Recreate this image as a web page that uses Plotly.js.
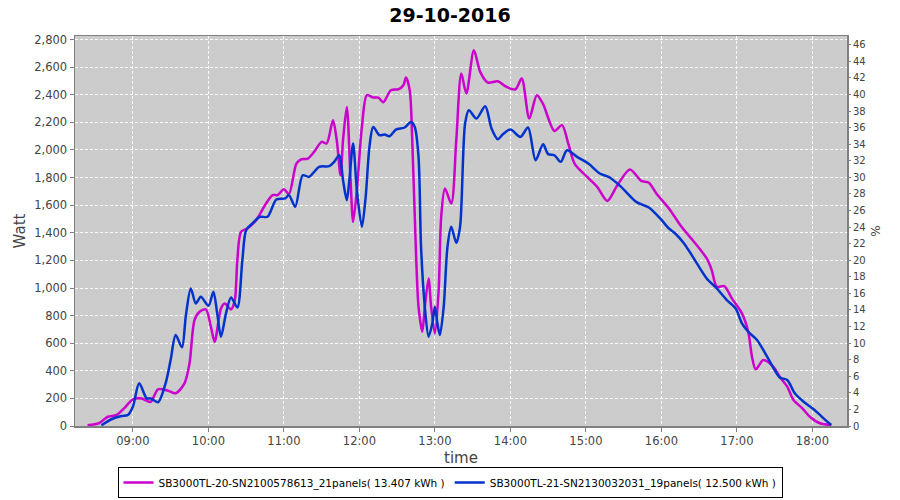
<!DOCTYPE html>
<html>
<head>
<meta charset="utf-8">
<script src="https://cdn.plot.ly/plotly-3.0.1.min.js"></script>
<style>html,body{margin:0;padding:0;background:#fff;}#chart{width:900px;height:500px;}</style>
</head>
<body>
<div id="chart"></div>
<script>
var DAY = "2016-10-29 ";
var chartTitle = "29-10-2016";
var seriesNames = [
  "SB3000TL-20-SN2100578613_21panels( 13.407 kWh )",
  "SB3000TL-21-SN2130032031_19panels( 12.500 kWh )"
];

var timesA = ["08:24","08:33","08:40","08:47","08:53","09:00","09:07","09:14","09:20","09:28","09:34","09:41","09:45","09:49","09:53","09:58","10:02","10:05","10:10","10:13","10:18","10:21","10:23","10:26","10:31","10:38","10:45","10:51","10:55","11:00","11:04","11:10","11:14","11:19","11:24","11:30","11:34","11:39","11:42","11:45","11:47","11:50","11:53","11:55","11:58","12:02","12:06","12:11","12:15","12:19","12:25","12:31","12:35","12:37","12:40","12:42","12:45","12:47","12:50","12:52","12:55","12:57","13:00","13:03","13:05","13:08","13:13","13:17","13:21","13:25","13:31","13:36","13:42","13:50","13:57","14:04","14:09","14:15","14:21","14:26","14:35","14:41","14:46","14:51","15:01","15:09","15:17","15:25","15:35","15:44","15:50","15:56","16:07","16:16","16:27","16:36","16:40","16:44","16:50","16:56","17:04","17:09","17:12","17:15","17:21","17:29","17:34","17:40","17:45","17:52","17:58","18:06","18:15"];
var wattA = [5,20,67,80,128,193,200,174,266,256,237,309,454,768,828,845,719,610,852,888,845,912,1202,1407,1431,1492,1600,1673,1673,1716,1680,1902,1933,1938,1986,2059,2047,2216,2071,1817,2071,2312,1781,1479,1709,2167,2397,2380,2380,2346,2433,2440,2469,2525,2433,2071,1250,864,683,864,1069,864,671,985,1516,1721,1612,2071,2554,2409,2723,2566,2489,2498,2457,2440,2518,2228,2397,2332,2138,2180,2047,1902,1805,1733,1631,1745,1859,1776,1762,1685,1564,1443,1323,1214,1130,1009,1014,925,816,683,502,411,478,429,357,285,188,128,67,20,7];

var timesB = ["08:35","08:43","08:51","08:56","09:00","09:05","09:11","09:14","09:20","09:26","09:30","09:34","09:39","09:42","09:46","09:50","09:54","10:00","10:04","10:07","10:10","10:14","10:18","10:23","10:27","10:30","10:35","10:41","10:47","10:54","11:01","11:04","11:09","11:15","11:20","11:28","11:36","11:40","11:44","11:47","11:50","11:52","11:55","11:58","12:02","12:05","12:08","12:11","12:16","12:20","12:24","12:29","12:36","12:41","12:44","12:47","12:49","12:52","12:55","12:58","13:00","13:02","13:04","13:07","13:10","13:13","13:17","13:20","13:24","13:27","13:33","13:40","13:45","13:50","13:54","14:00","14:08","14:14","14:20","14:26","14:30","14:35","14:40","14:45","14:53","15:02","15:11","15:19","15:28","15:40","15:50","15:59","16:06","16:11","16:18","16:25","16:36","16:44","16:52","16:59","17:04","17:09","17:16","17:24","17:30","17:34","17:40","17:46","17:53","18:01","18:08","18:15"];
var wattB = [5,49,72,80,140,309,200,200,172,309,478,659,570,792,997,888,936,871,973,816,647,816,932,859,1202,1419,1468,1516,1516,1641,1649,1673,1588,1817,1805,1878,1883,1914,1962,1781,1636,1781,2047,1709,1443,1661,2023,2167,2107,2112,2100,2148,2163,2203,2167,1950,1298,864,647,744,864,744,659,864,1298,1443,1327,1443,2192,2288,2228,2317,2156,2078,2114,2148,2095,2163,1926,2042,1970,1962,1914,1998,1950,1902,1830,1801,1733,1624,1583,1504,1431,1395,1323,1226,1069,997,912,852,744,683,623,502,405,352,333,237,176,121,63,7];

function full(ts){ return ts.map(function(t){ return DAY + t; }); }

var FONT = "DejaVu Sans, Verdana, sans-serif";
var data = [
  {x: full(timesA), y: wattA, name: seriesNames[0], type: "scatter", mode: "lines",
   line: {color: "#cc00cc", width: 2.5, shape: "spline", smoothing: 0.8}},
  {x: full(timesB), y: wattB, name: seriesNames[1], type: "scatter", mode: "lines",
   line: {color: "#0033cc", width: 2.5, shape: "spline", smoothing: 0.8}},
  {x: [], y: [], yaxis: "y2", type: "scatter", mode: "lines", showlegend: false, hoverinfo: "skip"}
];

var layout = {
  width: 900, height: 500,
  paper_bgcolor: "#ffffff", plot_bgcolor: "#cccccc",
  margin: {l: 75, r: 53, t: 36, b: 74, autoexpand: false},
  font: {family: FONT, size: 11, color: "#444"},
  title: {text: "<b>" + chartTitle + "</b>", x: 0.5, xanchor: "center", y: 0.97, yanchor: "middle",
          font: {family: FONT, size: 19, color: "#000"}},
  showlegend: true,
  legend: {orientation: "h", x: 0.5, xanchor: "center", xref: "container",
           y: 0.004, yanchor: "bottom", yref: "container",
           bordercolor: "#000", borderwidth: 1, bgcolor: "#fff",
           font: {family: FONT, size: 10.5, color: "#000"}, itemwidth: 30, tracegroupgap: 0},
  xaxis: {type: "date", range: [DAY + "08:14:00", DAY + "18:27:30"],
          tick0: DAY + "09:00", dtick: 3600000, tickformat: "%H:%M",
          showgrid: true, gridcolor: "#ffffff", griddash: "3px,2px", gridwidth: 1,
          showline: true, linecolor: "#808080", linewidth: 1.5, mirror: true,
          ticks: "outside", ticklen: 4, tickcolor: "#808080",
          tickfont: {family: FONT, size: 11.5, color: "#444"},
          title: {text: "time", font: {family: FONT, size: 15, color: "#444"}, standoff: 15},
          zeroline: false},
  yaxis: {range: [0, 2826], dtick: 200, tickformat: ",d",
          showgrid: true, gridcolor: "#ffffff", griddash: "3px,2px", gridwidth: 1,
          showline: true, linecolor: "#808080", linewidth: 1.5, mirror: true,
          ticks: "outside", ticklen: 4, tickcolor: "#808080",
          tickfont: {family: FONT, size: 11.5, color: "#444"},
          title: {text: "Watt", font: {family: FONT, size: 15, color: "#444"}, standoff: 5},
          zeroline: false},
  yaxis2: {overlaying: "y", side: "right", range: [0, 47.05], dtick: 2,
           showgrid: false, zeroline: false, showline: false,
           ticks: "outside", ticklen: 3, tickcolor: "#808080",
           tickfont: {family: FONT, size: 10, color: "#444"},
           title: {text: "%", font: {family: FONT, size: 12, color: "#444"}, standoff: 6}}
};

Plotly.newPlot("chart", data, layout, {displayModeBar: false, staticPlot: true});
</script>
</body>
</html>
